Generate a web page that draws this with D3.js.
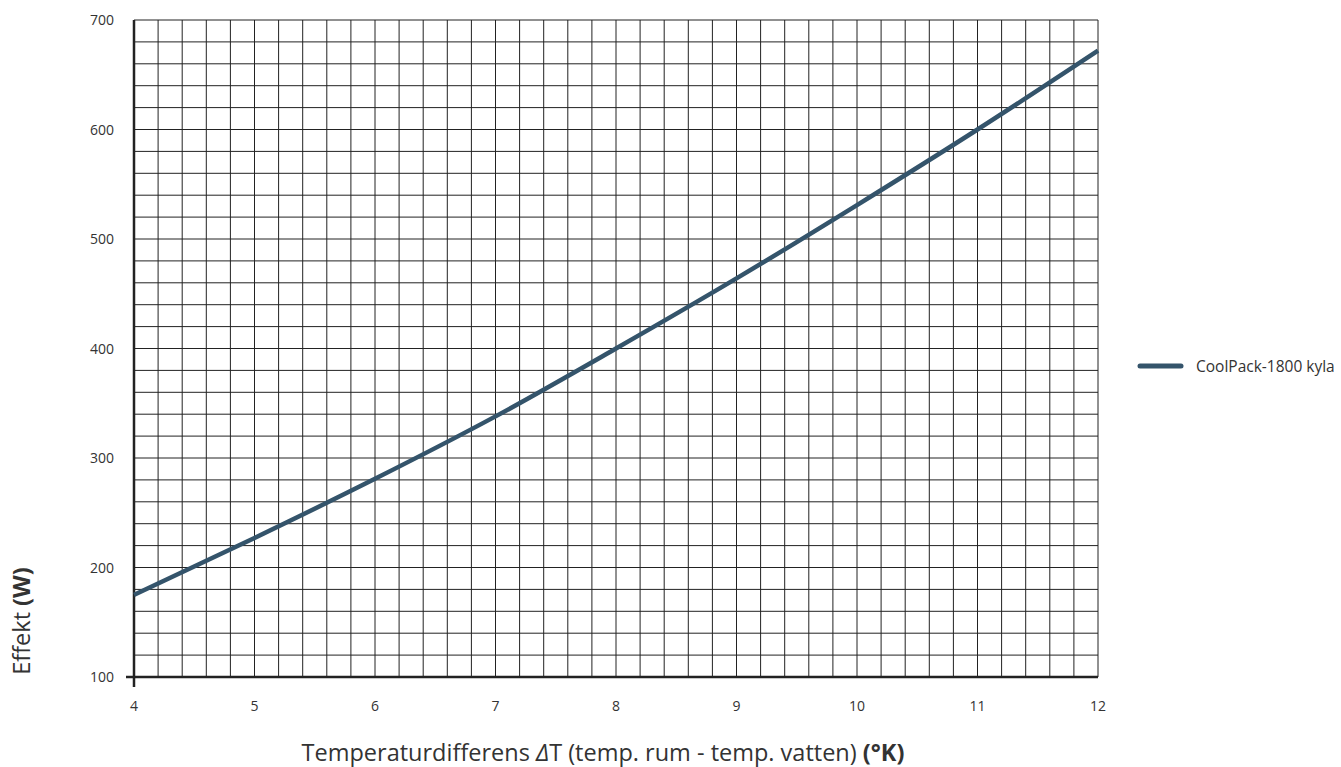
<!DOCTYPE html>
<html lang="sv">
<head>
    <meta charset="UTF-8">
    <title>CoolPack-1800 kyla</title>
    <script src="https://d3js.org/d3.v7.min.js"></script>
    <style>
        body { margin: 0; background: #fff; }
        text { font-family: "Open Sans", sans-serif; fill: #333; }
        .tick-label { font-size: 14px; }
        .title { font-size: 23.5px; }
    </style>
</head>
<body>
    <script>
        // Data
        const deltaT = [4, 5, 6, 7, 8, 9, 10, 11, 12];
        const effekt = [175, 227, 281, 338, 400, 464, 531, 600, 672];
        const seriesName = "CoolPack-1800 kyla";
        const xTicks = [4, 5, 6, 7, 8, 9, 10, 11, 12];
        const yTicks = [100, 200, 300, 400, 500, 600, 700];

        const width = 1341, height = 767;
        const margin = { left: 134, right: 243, top: 20, bottom: 90 };

        const svg = d3.select("body").append("svg")
            .attr("width", width)
            .attr("height", height);

        const x = d3.scaleLinear().domain([4, 12]).range([margin.left, width - margin.right]);
        const y = d3.scaleLinear().domain([100, 700]).range([height - margin.bottom, margin.top]);

        // Grid
        const grid = svg.append("g").attr("stroke", "#222").attr("stroke-width", 1);
        grid.selectAll(".vx")
            .data(d3.range(4.2, 12.001, 0.2))
            .enter().append("line")
            .attr("x1", d => x(d)).attr("x2", d => x(d))
            .attr("y1", y(100)).attr("y2", y(700));
        grid.selectAll(".hy")
            .data(d3.range(120, 700.001, 20))
            .enter().append("line")
            .attr("x1", x(4)).attr("x2", x(12))
            .attr("y1", d => y(d)).attr("y2", d => y(d));

        // Axes
        const axes = svg.append("g").attr("stroke", "#222").attr("stroke-width", 2.5);
        axes.append("line").attr("x1", x(4)).attr("x2", x(4)).attr("y1", y(700)).attr("y2", y(100) + 10);
        axes.append("line").attr("x1", x(4) - 8).attr("x2", x(12)).attr("y1", y(100)).attr("y2", y(100));

        // Tick labels
        svg.selectAll(".xl")
            .data(xTicks)
            .enter().append("text")
            .attr("class", "tick-label")
            .attr("x", d => x(d))
            .attr("y", y(100) + 34)
            .attr("text-anchor", "middle")
            .text(d => d);
        svg.selectAll(".yl")
            .data(yTicks)
            .enter().append("text")
            .attr("class", "tick-label")
            .attr("x", x(4) - 20)
            .attr("y", d => y(d) + 5)
            .attr("text-anchor", "end")
            .text(d => d);

        // Curve
        const line = d3.line()
            .x((d, i) => x(deltaT[i]))
            .y(d => y(d))
            .curve(d3.curveMonotoneX);
        svg.append("path")
            .datum(effekt)
            .attr("fill", "none")
            .attr("stroke", "#34546b")
            .attr("stroke-width", 4.5)
            .attr("d", line);

        // Legend
        svg.append("line")
            .attr("x1", 1140).attr("x2", 1181)
            .attr("y1", 366).attr("y2", 366)
            .attr("stroke", "#34546b")
            .attr("stroke-width", 5)
            .attr("stroke-linecap", "round");
        svg.append("text")
            .attr("x", 1196).attr("y", 371.5)
            .style("font-size", "15.5px")
            .text(seriesName);

        // Axis titles
        const xt = svg.append("text")
            .attr("class", "title")
            .attr("x", 603).attr("y", 761)
            .attr("text-anchor", "middle");
        xt.append("tspan").text("Temperaturdifferens ");
        xt.append("tspan").style("font-style", "italic").text("Δ");
        xt.append("tspan").text("T (temp. rum - temp. vatten) ");
        xt.append("tspan").style("font-weight", "bold").text("(°K)");

        const yt = svg.append("text")
            .attr("class", "title")
            .attr("transform", "translate(30,621) rotate(-90)")
            .attr("text-anchor", "middle");
        yt.append("tspan").text("Effekt ");
        yt.append("tspan").style("font-weight", "bold").text("(W)");
    </script>
</body>
</html>
